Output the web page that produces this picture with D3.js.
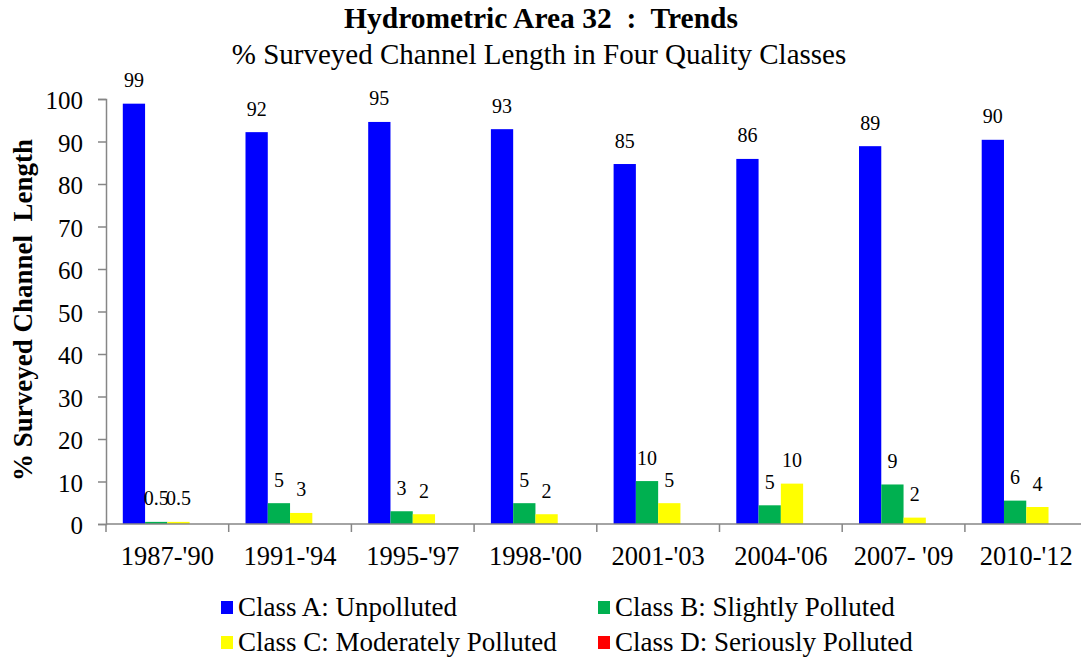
<!DOCTYPE html>
<html>
<head>
<meta charset="utf-8">
<script src="https://cdn.jsdelivr.net/npm/d3@7"></script>
<style>
  body { margin: 0; background: #fff; }
  text { font-family: "Liberation Serif", "Times New Roman", serif; fill: #000; white-space: pre; }
</style>
</head>
<body>
<script>
// periods along the x axis
var periods = ["1987-'90", "1991-'94", "1995-'97", "1998-'00", "2001-'03", "2004-'06", "2007- '09", "2010-'12"];
var classes = ["Class A: Unpolluted", "Class B: Slightly Polluted", "Class C: Moderately Polluted", "Class D: Seriously Polluted"];
var colors = ["#0000ff", "#00b050", "#ffff00", "#ff0000"];

// bar heights
var classA = [98.9, 92.2, 94.6, 92.9, 84.7, 85.9, 88.9, 90.4];
var classB = [0.5, 4.9, 3.0, 4.9, 10.1, 4.4, 9.3, 5.5];
var classC = [0.5, 2.6, 2.3, 2.3, 4.9, 9.5, 1.5, 4.0];
var classD = [0, 0, 0, 0, 0, 0, 0, 0];

// value labels as printed
var labelA = ["99", "92", "95", "93", "85", "86", "89", "90"];
var labelB = ["0.5", "5", "3", "5", "10", "5", "9", "6"];
var labelC = ["0.5", "3", "2", "2", "5", "10", "2", "4"];

var yTicks = [0, 10, 20, 30, 40, 50, 60, 70, 80, 90, 100];

var W = 1081, H = 659;
var plotLeft = 106, plotBottom = 524, plotTop = 99;
var bandW = 122.7;

var svg = d3.select('body').append('svg')
    .attr('width', W)
    .attr('height', H);

var x0 = d3.scaleBand().domain(periods).range([plotLeft, plotLeft + bandW * periods.length]);
var x1 = d3.scaleBand().domain(d3.range(4)).range([16.8, bandW - 16.8]);
var y = d3.scaleLinear().domain([0, 100]).range([plotBottom, plotTop]);

var series = [classA, classB, classC, classD];
var labels = [labelA, labelB, labelC, null];

// titles
svg.append('text')
    .attr('x', 541).attr('y', 28)
    .attr('text-anchor', 'middle')
    .style('font-size', '29.5px').style('font-weight', 'bold')
    .text('Hydrometric Area 32  :  Trends');
svg.append('text')
    .attr('x', 539).attr('y', 64)
    .attr('text-anchor', 'middle')
    .style('font-size', '29px')
    .text('% Surveyed Channel Length in Four Quality Classes');

// y axis
var yAxis = d3.axisLeft(y).tickValues(yTicks).tickSize(8).tickPadding(15);
var gy = svg.append('g')
    .attr('transform', 'translate(' + plotLeft + ',0)')
    .call(yAxis);
gy.selectAll('text').style('font-size', '25px').attr('dy', '0.38em');

// bars
series.forEach(function(vals, s) {
    svg.append('g').selectAll('rect')
        .data(vals)
        .enter().append('rect')
        .attr('x', function(d, i) { return x0(periods[i]) + x1(s); })
        .attr('width', x1.bandwidth())
        .attr('y', function(d) { return y(d); })
        .attr('height', function(d) { return plotBottom - y(d); })
        .attr('fill', colors[s]);

    if (labels[s]) {
        svg.append('g').selectAll('text')
            .data(vals)
            .enter().append('text')
            .attr('x', function(d, i) { return x0(periods[i]) + x1(s) + x1.bandwidth() / 2; })
            .attr('y', function(d) { return y(d) - 16.5; })
            .attr('text-anchor', 'middle')
            .style('font-size', '20px')
            .text(function(d, i) { return labels[s][i]; });
    }
});

// x axis, ticks at category boundaries
var gx = svg.append('g').attr('class', 'xaxis');
gx.append('line')
    .attr('x1', plotLeft).attr('x2', W)
    .attr('y1', plotBottom).attr('y2', plotBottom);
gx.selectAll('line.tk')
    .data(d3.range(periods.length + 1))
    .enter().append('line')
    .attr('class', 'tk')
    .attr('x1', function(i) { return plotLeft + i * bandW; })
    .attr('x2', function(i) { return plotLeft + i * bandW; })
    .attr('y1', plotBottom).attr('y2', plotBottom + 8);
gx.selectAll('text')
    .data(periods)
    .enter().append('text')
    .attr('x', function(d) { return x0(d) + bandW / 2; })
    .attr('y', 565)
    .attr('text-anchor', 'middle')
    .style('font-size', '26.5px')
    .text(function(d) { return d; });

svg.selectAll('.domain, .tick line, .xaxis line')
    .attr('stroke', '#868686').attr('stroke-width', 1.5);

// y axis title
svg.append('text')
    .attr('transform', 'translate(32,310) rotate(-90)')
    .attr('text-anchor', 'middle')
    .style('font-size', '27px').style('font-weight', 'bold')
    .text('% Surveyed Channel  Length');

// legend
var legPos = [[221, 608], [598, 608], [221, 643], [598, 643]];
var leg = svg.append('g').selectAll('g')
    .data(classes)
    .enter().append('g')
    .attr('transform', function(d, i) { return 'translate(' + legPos[i][0] + ',' + legPos[i][1] + ')'; });
leg.append('rect')
    .attr('x', 0).attr('y', -7)
    .attr('width', 12).attr('height', 13)
    .attr('fill', function(d, i) { return colors[i]; });
leg.append('text')
    .attr('x', 17).attr('y', 8)
    .style('font-size', '27px')
    .text(function(d) { return d; });
</script>
</body>
</html>
